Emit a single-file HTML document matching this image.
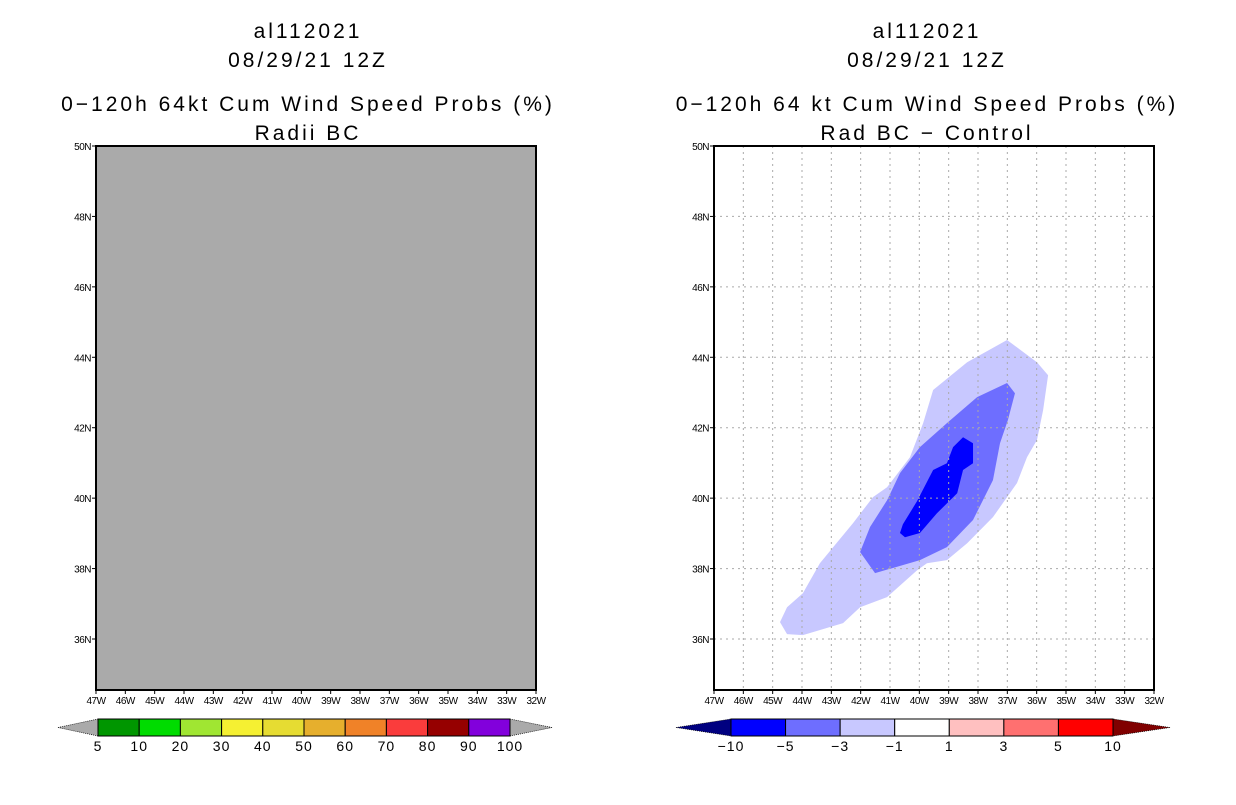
<!DOCTYPE html>
<html><head><meta charset="utf-8"><style>
body{margin:0;background:#fff}
svg text{font-family:"Liberation Sans",sans-serif;fill:#000}
.t{font-size:21px;letter-spacing:3px}
.tk{font-size:10px;letter-spacing:-0.5px}
.cb{font-size:14px;letter-spacing:1px}
</style></head><body>
<svg id="s" width="1236" height="800" viewBox="0 0 1236 800" xmlns="http://www.w3.org/2000/svg">
<g>
<text class="t" x="308" y="38" text-anchor="middle">al112021</text>
<text class="t" x="308" y="67" text-anchor="middle">08/29/21 12Z</text>
<text class="t" x="308" y="111" text-anchor="middle">0−120h 64kt Cum Wind Speed Probs (%)</text>
<text class="t" x="308" y="140" text-anchor="middle">Radii BC</text>
</g>
<g>
<text class="t" x="927" y="38" text-anchor="middle">al112021</text>
<text class="t" x="927" y="67" text-anchor="middle">08/29/21 12Z</text>
<text class="t" x="927" y="111" text-anchor="middle">0−120h 64 kt Cum Wind Speed Probs (%)</text>
<text class="t" x="927" y="140" text-anchor="middle">Rad BC − Control</text>
</g>
<g id="L"></g>
<g id="R"></g>
<g id="CB"></g>
</svg>
<script>
const lonTicks=[47,46,45,44,43,42,41,40,39,38,37,36,35,34,33,32];
const latTicks=[50,48,46,44,42,40,38,36];
const outerLon=[-44.75,-44.51,-43.97,-42.60,-42.02,-41.10,-40.08,-39.74,-39.06,-38.37,-37.49,-36.67,-36.33,-35.99,-35.78,-35.61,-35.99,-37.01,-38.37,-39.53,-39.87,-40.32,-41.10,-41.58,-42.26,-43.39,-43.97,-44.51];
const outerLat=[36.48,36.14,36.11,36.45,36.90,37.19,37.95,38.15,38.24,38.72,39.46,40.43,41.16,41.65,42.50,43.49,43.86,44.49,43.86,43.07,42.13,41.16,40.31,40.03,39.29,38.15,37.30,36.90];
const midLon=[-42.02,-41.51,-39.98,-39.06,-38.17,-37.49,-37.25,-36.98,-36.74,-37.01,-38.03,-39.06,-39.98,-40.66,-41.10,-41.68];
const midLat=[38.47,37.87,38.24,38.61,39.38,40.51,41.56,42.22,42.98,43.27,42.87,42.13,41.45,40.71,39.94,39.18];
const innerLon=[-40.66,-40.49,-39.98,-39.40,-38.71,-38.51,-38.17,-38.17,-38.51,-38.85,-39.06,-39.53,-40.08,-40.56];
const innerLat=[39.01,38.89,39.01,39.57,40.14,40.80,40.99,41.56,41.73,41.45,40.99,40.80,39.91,39.26];
const leftLevels=["5","10","20","30","40","50","60","70","80","90","100"];
const leftColors=["#009600","#00dc00","#a0e632","#f5f032","#e6dc32","#e6af2d","#f08228","#fa3c3c","#960000","#8200dc"];
const rightLevels=["−10","−5","−3","−1","1","3","5","10"];
const rightColors=["#0000ff","#6e6eff","#c8c8ff","#ffffff","#ffc0c0","#ff7070","#ff0000"];
const NS="http://www.w3.org/2000/svg";
function mk(p,t,a){const e=document.createElementNS(NS,t);for(const k in a)e.setAttribute(k,a[k]);p.appendChild(e);return e;}
const W=440,y0=146,y1=690;
function xs(x0,lon){return x0+(lon+47)*W/15;}
function ys(lat){return y0+(50-lat)*(493/14);}
function axes(g,x0,grid){
  for(const t of lonTicks){const x=xs(x0,-t);
    mk(g,'line',{x1:x,x2:x,y1:y1,y2:y1+4,stroke:'#000'});
    const tx=mk(g,'text',{x:x,y:y1+14,'text-anchor':'middle',class:'tk'});tx.textContent=t+'W';
    
    
    if(grid&&t<47&&t>32){const l=mk(g,'line',{x1:x,x2:x,y1:y0,y2:y1,stroke:'#aaa','stroke-dasharray':'2,4'});
      
      }
  }
  for(const t of latTicks){const y=ys(t);
    mk(g,'line',{x1:x0-4,x2:x0,y1:y,y2:y,stroke:'#000'});
    const tx=mk(g,'text',{x:x0-5,y:y+4,'text-anchor':'end',class:'tk'});tx.textContent=t+'N';
    
    
    if(grid&&t<50){const l=mk(g,'line',{x1:x0,x2:x0+W,y1:y,y2:y,stroke:'#aaa','stroke-dasharray':'2,4'});
      
      }
  }
}
const L=document.getElementById('L'),R=document.getElementById('R');
const bg=mk(L,'rect',{x:96,y:y0,width:W,height:y1-y0,fill:'#aaaaaa'});


axes(L,96,false);
mk(L,'rect',{x:96,y:y0,width:W,height:y1-y0,fill:'none',stroke:'#000','stroke-width':2});
function poly(lons,lats,col,name){const pts=lons.map((v,i)=>xs(714,v)+','+ys(lats[i])).join(' ');
  const p=mk(R,'polygon',{points:pts,fill:col});
  
  }
poly(outerLon,outerLat,'#c8c8ff','contour-minus-1');
poly(midLon,midLat,'#6e6eff','contour-minus-3');
poly(innerLon,innerLat,'#0000ff','contour-minus-5');
axes(R,714,true);
mk(R,'rect',{x:714,y:y0,width:W,height:y1-y0,fill:'none',stroke:'#000','stroke-width':2});
const CB=document.getElementById('CB');
function bar(x0,x1,levels,colors,lc,rc,lt,rt,name){
  const g=mk(CB,'g',{});
  
  
  const n=colors.length,w=(x1-x0)/n,yt=719,yb=736,ym=727.5;
  mk(g,'polygon',{points:`${lt},${ym} ${x0},${yt} ${x0},${yb}`,fill:lc,stroke:'#000','stroke-dasharray':'1,1','stroke-width':0.7});
  mk(g,'polygon',{points:`${rt},${ym} ${x1},${yt} ${x1},${yb}`,fill:rc,stroke:'#000','stroke-dasharray':'1,1','stroke-width':0.7});
  colors.forEach((c,i)=>{const r=mk(g,'rect',{x:x0+i*w,y:yt,width:w,height:yb-yt,fill:c,stroke:'#000'});
    
    });
  levels.forEach((l,i)=>{const t=mk(g,'text',{x:x0+i*w,y:751,'text-anchor':'middle',class:'cb'});t.textContent=l;
    
    });
}
bar(98,510,leftLevels,leftColors,'#aaaaaa','#aaaaaa',58,552,'left-colorbar');
bar(731,1113,rightLevels,rightColors,'#000080','#800000',676,1170,'right-colorbar');
</script>
</body></html>
